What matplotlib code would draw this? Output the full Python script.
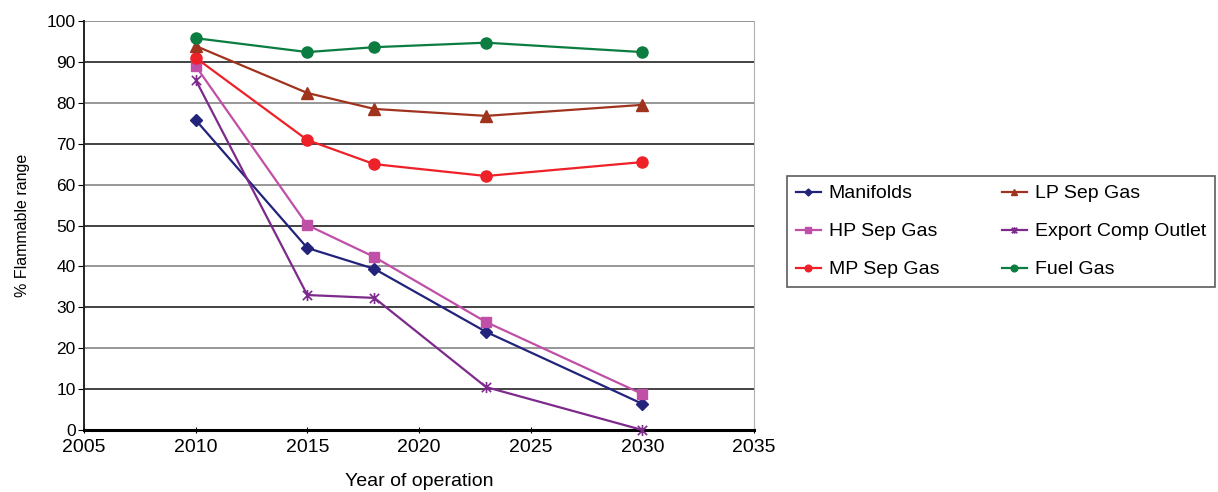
import matplotlib.pyplot as plt
from matplotlib.path import Path
import numpy as np

# Data
years = [2010, 2015, 2018, 2023, 2030]
manifolds = [75.8, 44.5, 39.4, 24.0, 6.4]
hp_sep = [89.0, 50.1, 42.3, 26.4, 8.8]
mp_sep = [91.0, 70.9, 65.0, 62.1, 65.5]
lp_sep = [93.9, 82.4, 78.5, 76.8, 79.5]
export_comp = [85.6, 33.0, 32.3, 10.5, 0.0]
fuel_gas = [95.8, 92.4, 93.6, 94.7, 92.4]

plt.rcParams['font.family'] = ['Liberation Sans', 'DejaVu Sans']

# Excel-style star: an X with a vertical bar through it
star = Path([(-1, -1), (1, 1), (-1, 1), (1, -1), (0, -1.2), (0, 1.2)],
            [Path.MOVETO, Path.LINETO, Path.MOVETO, Path.LINETO,
             Path.MOVETO, Path.LINETO])

fig = plt.figure(figsize=(12.18, 4.92), dpi=100)
ax = fig.add_axes([84/1218, 62/492, 670/1218, 409/492])

# horizontal gridlines
for v in range(10, 101, 10):
    ax.axhline(v, color='#222222' if v % 20 else '#858585', lw=1.2, zorder=0)

series = [
    ('Manifolds', manifolds, '#22237a', 'D', 6),
    ('HP Sep Gas', hp_sep, '#c04fa8', 's', 7),
    ('MP Sep Gas', mp_sep, '#ee2028', 'o', 8),
    ('LP Sep Gas', lp_sep, '#a0331e', '^', 8),
    ('Export Comp Outlet', export_comp, '#7d2a8c', star, 8),
    ('Fuel Gas', fuel_gas, '#0b7d40', 'o', 8),
]

handles = []
for label, vals, col, mk, ms in series:
    h, = ax.plot(years, vals, color=col, marker=mk, markersize=ms, lw=1.6,
                 markeredgewidth=1.2 if label.startswith('Export') else 1.0,
                 label=label, clip_on=False, zorder=3)
    handles.append(h)

ax.set_xlim(2005, 2035)
ax.set_ylim(0, 100)
ax.set_xticks(range(2005, 2036, 5))
ax.set_yticks(range(0, 101, 10))
ax.tick_params(axis='x', labelsize=14, length=5, direction='inout', pad=4)
ax.tick_params(axis='y', labelsize=12.5, length=4, direction='out', pad=2)

ax.spines['top'].set_visible(False)
ax.spines['right'].set_color('#b0b0b0')
ax.spines['left'].set_color('#222222')
ax.spines['left'].set_linewidth(1.4)
ax.spines['bottom'].set_linewidth(2.2)
ax.spines['bottom'].set_color('black')

ax.set_xlabel('Year of operation', fontsize=14, labelpad=12)
ax.set_ylabel('% Flammable range', fontsize=11.5, labelpad=12)

leg = fig.legend(handles=handles, ncol=2, loc='upper left',
                 bbox_to_anchor=(787/1218, 1 - 176/492), fontsize=14,
                 frameon=True, fancybox=False, edgecolor='#333333',
                 handlelength=1.3, handletextpad=0.4, labelspacing=1.05,
                 columnspacing=3.2, borderpad=0.45, borderaxespad=0,
                 markerscale=0.6)
leg.get_frame().set_linewidth(1.2)

plt.savefig('out.png', dpi=100)
